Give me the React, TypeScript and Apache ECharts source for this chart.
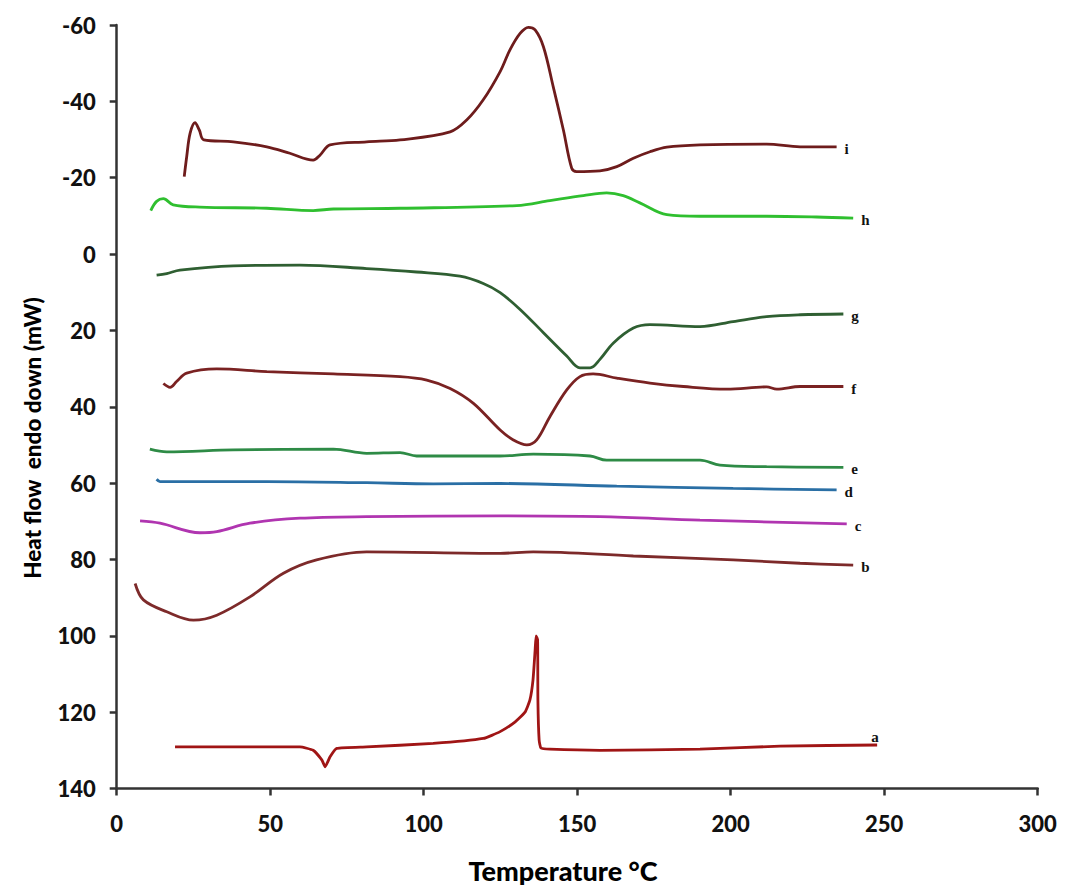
import React, { useEffect, useRef } from "react";
import * as echarts from "echarts";

const xTicks = [0, 50, 100, 150, 200, 250, 300];
const yTicks = [-60, -40, -20, 0, 20, 40, 60, 80, 100, 120, 140];

const curveLabels = ["i", "h", "g", "f", "e", "d", "c", "b", "a"];

const curveI: [number, number][] = [[22.0,-20.3],[22.8,-25.5],[23.9,-31.6],[25.5,-34.4],[26.9,-32.5],[28.4,-29.9],[38.0,-29.4],[48.9,-28.1],[56.4,-26.4],[64.0,-24.6],[66.2,-25.9],[69.5,-28.6],[81.4,-29.4],[92.3,-29.9],[108.6,-32.0],[114.0,-35.1],[119.4,-40.4],[124.9,-47.8],[128.1,-53.5],[131.4,-57.8],[134.1,-59.4],[136.3,-58.7],[139.0,-54.3],[142.2,-43.8],[145.5,-32.5],[148.2,-22.5],[149.8,-21.6],[157.4,-21.8],[162.9,-22.9],[168.3,-25.1],[173.7,-26.8],[179.2,-28.0],[190.0,-28.6],[211.7,-28.8],[222.6,-28.1],[234.5,-28.1]];
const curveH: [number, number][] = [[11.1,-11.4],[13.0,-13.8],[15.2,-14.5],[18.4,-12.9],[27.1,-12.3],[48.9,-12.0],[64.0,-11.4],[70.6,-11.8],[92.3,-12.0],[130.3,-12.7],[141.1,-14.0],[152.0,-15.3],[159.6,-16.0],[165.0,-15.3],[170.4,-13.4],[179.2,-10.3],[190.0,-9.9],[211.7,-9.9],[228.0,-9.7],[239.9,-9.4]];
const curveG: [number, number][] = [[13.0,5.5],[16.3,5.1],[20.6,4.2],[38.0,3.1],[59.7,2.9],[81.4,3.8],[97.7,4.7],[111.8,5.8],[119.4,7.7],[124.9,10.1],[131.4,14.5],[139.0,20.6],[146.6,26.7],[150.9,29.8],[154.2,29.8],[157.4,27.6],[161.8,23.3],[168.3,19.4],[173.7,18.5],[190.0,19.0],[200.8,17.7],[211.7,16.4],[222.6,15.9],[236.7,15.7]];
const curveF: [number, number][] = [[15.2,33.9],[17.4,34.9],[19.5,33.4],[22.8,31.2],[32.6,30.1],[48.9,30.8],[70.6,31.4],[92.3,32.1],[101.0,33.0],[108.6,35.2],[116.2,39.1],[124.9,46.1],[129.2,48.7],[133.6,50.0],[136.8,48.7],[141.1,42.6],[146.6,35.6],[150.9,32.1],[155.2,31.4],[162.9,32.5],[173.7,33.8],[184.6,34.7],[198.7,35.4],[211.7,34.8],[215.0,35.4],[222.6,34.7],[236.7,34.7]];
const curveE: [number, number][] = [[10.8,51.1],[16.3,51.8],[38.0,51.3],[70.6,51.1],[81.4,52.2],[92.3,52.0],[97.7,52.9],[124.9,52.9],[135.7,52.4],[154.2,52.9],[159.6,54.0],[190.0,54.0],[196.5,55.3],[211.7,55.7],[236.7,55.9]];
const curveD: [number, number][] = [[13.0,59.0],[14.1,59.6],[48.9,59.6],[81.4,59.9],[103.1,60.2],[124.9,60.1],[162.9,60.8],[200.8,61.4],[234.5,61.8]];
const curveC: [number, number][] = [[7.6,69.9],[14.1,70.5],[27.1,73.0],[32.6,72.7],[43.4,70.5],[59.7,69.2],[81.4,68.8],[124.9,68.6],[157.4,68.8],[190.0,69.7],[237.8,70.7]];
const curveB: [number, number][] = [[6.0,86.3],[8.7,90.6],[16.3,93.7],[25.0,95.9],[32.6,94.6],[43.4,89.8],[54.3,83.6],[65.1,80.1],[81.4,78.0],[124.9,78.4],[135.7,78.0],[168.3,79.1],[200.8,80.1],[222.6,81.0],[239.9,81.5]];
const curveA: [number, number][] = [[19.0,129.1],[59.7,129.1],[64.0,130.0],[66.8,132.5],[67.9,134.3],[69.5,131.7],[71.7,129.5],[81.4,129.1],[103.1,128.2],[119.4,126.9],[124.9,125.1],[129.7,122.6],[133.0,120.0],[134.6,116.8],[135.6,111.6],[136.3,103.7],[136.6,100.0],[137.1,101.0],[137.2,116.8],[137.6,127.3],[138.2,129.4],[141.1,129.7],[157.4,130.0],[190.0,129.7],[216.1,128.9],[247.7,128.6]];

const curves = [curveI, curveH, curveG, curveF, curveE, curveD, curveC, curveB, curveA];
const colors = ["#6e1c1c", "#2fbf2f", "#2f5f32", "#7a2222", "#2e8b46", "#2a6fa5", "#b035b0", "#7d2a2a", "#a01515"];

export default function App() {
  const ref = useRef<HTMLDivElement>(null);
  useEffect(() => {
    if (!ref.current) return;
    const chart = echarts.init(ref.current, undefined, { renderer: "svg" });
    const labelFont = { fontFamily: "Lato", fontWeight: 900, fontSize: 22, color: "#111" };
    const series = curves.map((data, i) => ({
      type: "line" as const,
      name: curveLabels[i],
      data,
      showSymbol: false,
      smooth: i === 8 ? 0.15 : 0.35,
      lineStyle: { color: colors[i], width: 2.8 },
      itemStyle: { color: colors[i] },
      endLabel: {
        show: true,
        formatter: curveLabels[i],
        fontFamily: "Liberation Serif",
        fontWeight: "bold" as const,
        fontSize: 15,
        color: "#111",
        distance: 8,
        offset: i === 8 ? [-14, -8] : [0, 2],
      },
    }));
    chart.setOption({
      animation: false,
      backgroundColor: "#fff",
      grid: { left: 116.7, right: 29.3, top: 25, bottom: 99.5, containLabel: false },
      xAxis: {
        type: "value",
        min: xTicks[0],
        max: xTicks[xTicks.length - 1],
        interval: 50,
        axisLine: { show: true, onZero: false, lineStyle: { color: "#333", width: 2.5 } },
        axisTick: { show: true, inside: false, length: 7, lineStyle: { color: "#333", width: 2.5 } },
        splitLine: { show: false },
        axisLabel: { ...labelFont, margin: 24 },
      },
      yAxis: {
        type: "value",
        inverse: true,
        min: yTicks[0],
        max: yTicks[yTicks.length - 1],
        interval: 20,
        axisLine: { show: true, onZero: false, lineStyle: { color: "#333", width: 2.5 } },
        axisTick: { show: true, inside: false, length: 7, lineStyle: { color: "#333", width: 2.5 } },
        splitLine: { show: false },
        axisLabel: { ...labelFont, margin: 21 },
      },
      graphic: [
        {
          type: "text",
          x: 32,
          y: 438,
          rotation: Math.PI / 2,
          style: {
            text: "Heat flow  endo down (mW)",
            fontFamily: "Lato",
            fontWeight: 900,
            fontSize: 22.5,
            fill: "#000",
            align: "center",
            verticalAlign: "middle",
          },
        },
        {
          type: "text",
          x: 563,
          y: 870,
          style: {
            text: "Temperature °C",
            fontFamily: "Lato",
            fontWeight: 900,
            fontSize: 27,
            fill: "#000",
            align: "center",
            verticalAlign: "middle",
          },
        },
      ],
      series,
    });
    return () => chart.dispose();
  }, []);
  return (
    <div
      ref={ref}
      style={{ position: "fixed", left: 0, top: 0, width: 1067, height: 888 }}
    />
  );
}
